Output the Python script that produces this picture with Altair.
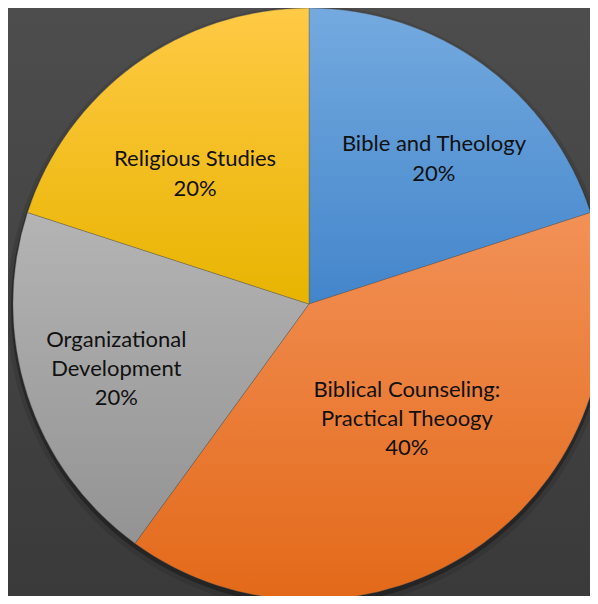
import altair as alt
import pandas as pd

# ---- data ----
categories = [
    "Bible and Theology",
    "Biblical Counseling: Practical Theoogy",
    "Organizational Development",
    "Religious Studies",
]
values = [20, 40, 20, 20]
label_lines = [
    "Bible and Theology",
    "Biblical Counseling:\nPractical Theoogy",
    "Organizational\nDevelopment",
    "Religious Studies",
]

# ---- styles ----
top_colors = ["#74aadf", "#f29157", "#b4b4b4", "#ffca45"]
bottom_colors = ["#4385cb", "#e36919", "#939393", "#e8b400"]
label_offsets = [(25, -15), (-2, -45), (-31, -10), (-14, 0)]

W, H = 582, 588
CX, CY, R = 301, 296, 296
TEXT_R = 170

df = pd.DataFrame(
    {"category": categories, "value": values, "label": label_lines, "order": list(range(len(categories)))}
)


def grad(c0, c1):
    return alt.LinearGradient(
        gradient="linear",
        stops=[alt.GradientStop(color=c0, offset=0), alt.GradientStop(color=c1, offset=1)],
        x1=0, x2=0, y1=0, y2=1,
    )


base = (
    alt.Chart(df)
    .transform_joinaggregate(total="sum(value)")
    .transform_window(cum="sum(value)", sort=[alt.SortField("order")], frame=[None, 0])
    .transform_calculate(t1="2*PI*datum.cum/datum.total")
    .transform_calculate(t0="2*PI*(datum.cum-datum.value)/datum.total")
    .transform_calculate(tm="(datum.t0+datum.t1)/2")
    .transform_calculate(txt="datum.label + '\\n' + format(datum.value/datum.total, '.0%')")
)

bg = alt.Chart(pd.DataFrame({"a": [0]})).mark_rect(
    fill=grad("#4d4d4d", "#3a3a3a")
).encode(x=alt.value(0), x2=alt.value(W), y=alt.value(0), y2=alt.value(H))

shadow_soft = base.mark_arc(outerRadius=R + 6, fill="#000000", fillOpacity=0.10).encode(
    theta=alt.Theta("t0:Q", scale=None), theta2=alt.Theta2("t1:Q"),
    x=alt.value(CX), y=alt.value(CY + 4),
)
shadow = base.mark_arc(outerRadius=R + 2, fill="#000000", fillOpacity=0.30).encode(
    theta=alt.Theta("t0:Q", scale=None), theta2=alt.Theta2("t1:Q"),
    x=alt.value(CX), y=alt.value(CY + 3),
)

layers = [bg, shadow_soft, shadow]
for i in range(len(categories)):
    layers.append(
        base.transform_filter(alt.datum.order == i)
        .mark_arc(
            outerRadius=R,
            fill=grad(top_colors[i], bottom_colors[i]),
            stroke="#555555",
            strokeWidth=0.5,
            strokeOpacity=0.7,
        )
        .encode(
            theta=alt.Theta("t0:Q", scale=None),
            theta2=alt.Theta2("t1:Q"),
            x=alt.value(CX),
            y=alt.value(CY),
        )
    )
for i in range(len(categories)):
    dx, dy = label_offsets[i]
    layers.append(
        base.transform_filter(alt.datum.order == i)
        .mark_text(
            radius=TEXT_R,
            dx=dx,
            dy=dy,
            font="Lato",
            fontSize=22,
            lineBreak="\n",
            lineHeight=29.3,
            align="center",
            baseline="alphabetic",
            color="#111111",
        )
        .encode(
            theta=alt.Theta("tm:Q", scale=None),
            x=alt.value(CX),
            y=alt.value(CY),
            text=alt.Text("txt:N"),
        )
    )

chart = (
    alt.layer(*layers)
    .properties(width=W, height=H, padding=0, autosize=alt.AutoSizeParams(type="none"), background="#444444")
    .configure_view(stroke=None)
)

chart.save("out.html", embed_options={"renderer": "svg", "actions": False})
